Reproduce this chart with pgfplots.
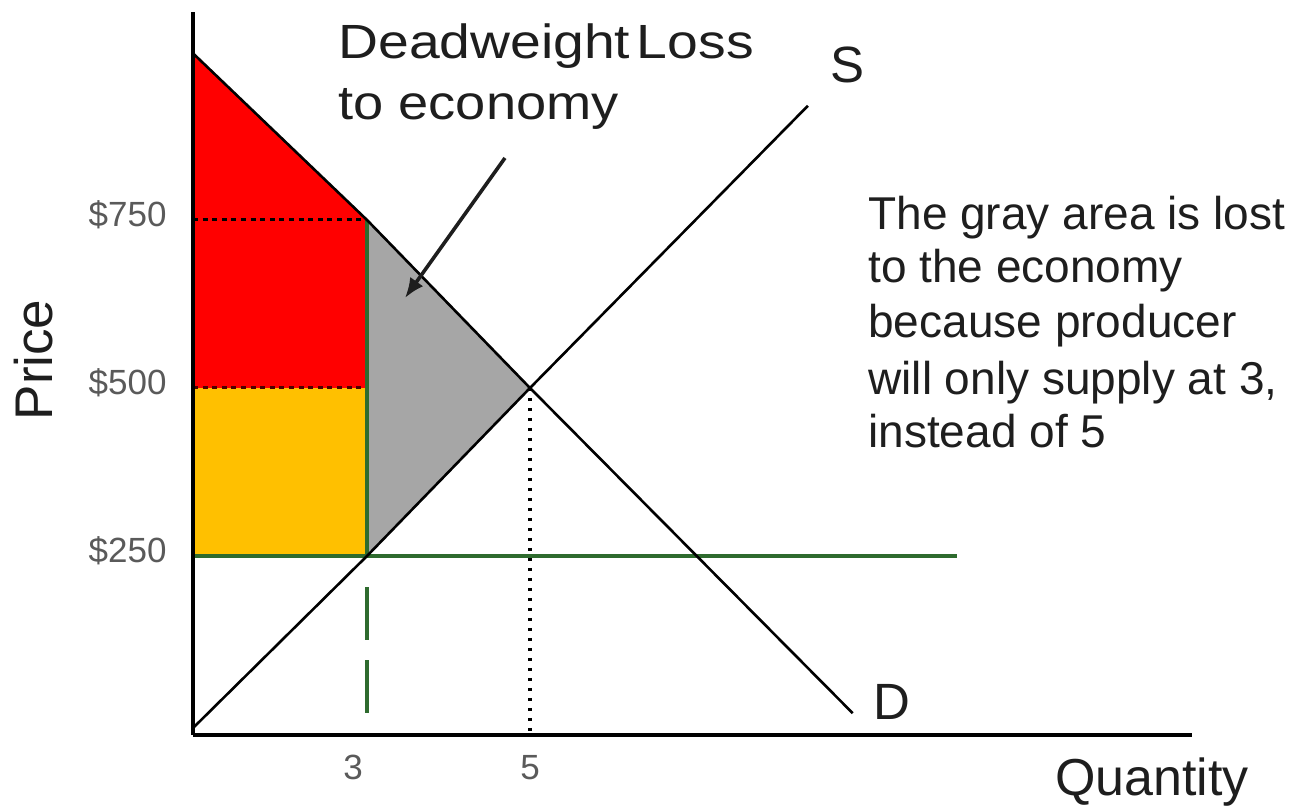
\documentclass[border=0pt]{standalone}
\usepackage{fontspec}
\setmainfont{Liberation Sans}
\usepackage{graphicx}
\usepackage{pgfplots}
\pgfplotsset{compat=1.18}
\usetikzlibrary{arrows.meta}
\definecolor{cons}{HTML}{FF0000}
\definecolor{prod}{HTML}{FFC000}
\definecolor{dwl}{HTML}{A6A6A6}
\definecolor{floorgreen}{HTML}{2E6B2E}
\definecolor{ticklab}{HTML}{5A5A5A}
\definecolor{txt}{HTML}{1E1E1E}

\begin{document}
\begin{tikzpicture}
\begin{axis}[
  at={(96.5pt,35pt)}, anchor=south west,
  x=40.75pt, y=0.336pt,
  xmin=0.865, xmax=13.12, ymin=-16.4, ymax=1059.5,
  enlargelimits=false, clip=false, axis on top,
  axis lines=left, axis line style={line width=2pt,-},
  xtick={3,5}, xticklabels={3\hspace*{14pt},5},
  ytick={250,500,750}, yticklabels={\$250,\$500,\$750},
  major tick length=0pt,
  tick label style={font=\fontsize{17.5}{20}\selectfont, text=ticklab},
  xticklabel style={anchor=north, inner sep=0pt, yshift=-10pt},
  yticklabel style={anchor=east, inner sep=0pt, xshift=-13pt, yshift=2.5pt},
  /pgf/number format/assume math mode=true,
]
% surplus areas
\addplot[fill=cons, draw=none] coordinates {(0.865,998) (3,750) (3,500) (0.865,500)} -- cycle;
\addplot[fill=prod, draw=none] coordinates {(0.865,500) (3,500) (3,250) (0.865,250)} -- cycle;
\addplot[fill=dwl, draw=none] coordinates {(3,750) (5,500) (3,250)} -- cycle;

% guide lines
\addplot[black, line width=1.5pt, dash pattern=on 2.5pt off 2.3pt] coordinates {(0.865,750) (3,750)};
\addplot[black!70!red, line width=1.5pt, dash pattern=on 2.5pt off 2.3pt] coordinates {(0.865,500) (3,500)};
\addplot[black, line width=1.6pt, dash pattern=on 1.6pt off 3.4pt] coordinates {(5,500) (5,-16.4)};

% price floor
\addplot[floorgreen, line width=2.2pt] coordinates {(0.865,250) (10.24,250)};
\addplot[floorgreen, line width=2.2pt] coordinates {(3,750) (3,250)};
\addplot[floorgreen, line width=2.2pt, dash pattern=on 26.5pt off 10pt, dash phase=26.5pt] coordinates {(3,233.6) (3,-16.4)};

% demand and supply
\addplot[black, line width=1.3pt] coordinates {(0.865,998) (3,750) (5,500) (8.96,16)};
\addplot[black, line width=1.3pt] coordinates {(0.865,-6) (3,250) (5,500) (8.41,920)};

% arrow to the gray area
\addplot[txt, line width=1.8pt, -{Latex[length=10pt,width=8pt]}] coordinates {(4.693,842.3) (3.466,633.9)};

% labels
\node[anchor=base west, inner sep=0pt, font=\fontsize{24}{28}\selectfont, text=txt] at (axis cs:2.644,991) {\scalebox{1.152}[1]{Deadweight\hspace{0.12em}Loss}};
\node[anchor=base west, inner sep=0pt, font=\fontsize{24}{28}\selectfont, text=txt] at (axis cs:2.644,898.8) {\scalebox{1.13}[1]{to economy}};
\node[anchor=base west, inner sep=0pt, font=\fontsize{25.5}{30}\selectfont, text=txt] at (axis cs:8.68,953.9) {S};
\node[anchor=base west, inner sep=0pt, font=\fontsize{25.5}{30}\selectfont, text=txt] at (axis cs:9.21,5.95) {D};
\node[anchor=base west, inner sep=0pt, font=\fontsize{26}{30}\selectfont, text=txt] at (axis cs:11.44,-105.7) {Quantity};
\node[rotate=90, anchor=base, inner sep=0pt, font=\fontsize{26.5}{30}\selectfont, text=txt] at (axis cs:-0.853,541.7) {Price};

\node[anchor=base west, inner sep=0pt, font=\fontsize{23}{27}\selectfont, text=txt] at (axis cs:9.147,735.1) {The gray area is lost};
\node[anchor=base west, inner sep=0pt, font=\fontsize{23}{27}\selectfont, text=txt] at (axis cs:9.147,656.3) {to the economy};
\node[anchor=base west, inner sep=0pt, font=\fontsize{23}{27}\selectfont, text=txt] at (axis cs:9.147,574.4) {because producer};
\node[anchor=base west, inner sep=0pt, font=\fontsize{23}{27}\selectfont, text=txt] at (axis cs:9.147,489.6) {will only supply at 3,};
\node[anchor=base west, inner sep=0pt, font=\fontsize{23}{27}\selectfont, text=txt] at (axis cs:9.147,410.7) {instead of 5};
\end{axis}
\pgfresetboundingbox
\path (0,0) rectangle (650.5pt,402.5pt);
\end{tikzpicture}
\end{document}
